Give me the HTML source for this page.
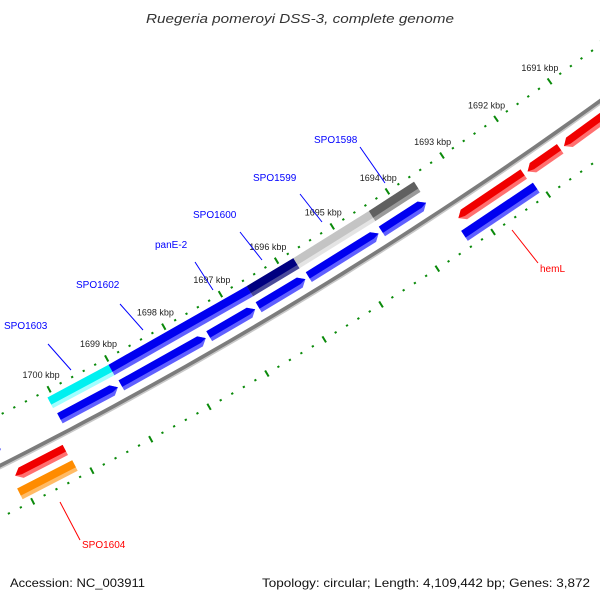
<!DOCTYPE html>
<html><head><meta charset="utf-8"><style>
html,body{margin:0;padding:0;background:#fff;width:600px;height:600px;overflow:hidden}
svg{display:block}
</style></head><body>
<svg id="chart" width="600" height="600" viewBox="0 0 600 600" xmlns="http://www.w3.org/2000/svg">
<rect x="0" y="0" width="600" height="600" fill="#fff"/>
<text x="300" y="23" text-anchor="middle" font-family="Liberation Sans, DejaVu Sans, sans-serif" font-style="italic" font-size="13" fill="#333" textLength="308" lengthAdjust="spacingAndGlyphs">Ruegeria pomeroyi DSS-3, complete genome</text>
<g id="scales"></g>
<g id="backbone"></g>
<g id="features"></g>
<g id="labels"></g>
<text x="10" y="587" font-family="Liberation Sans, DejaVu Sans, sans-serif" font-size="12" fill="#111" textLength="135" lengthAdjust="spacingAndGlyphs">Accession: NC_003911</text>
<text x="590" y="587" text-anchor="end" font-family="Liberation Sans, DejaVu Sans, sans-serif" font-size="12" fill="#111" textLength="328" lengthAdjust="spacingAndGlyphs">Topology: circular; Length: 4,109,442 bp; Genes: 3,872</text>
</svg>
<script>
// ---- data ----
const tickKbp = [1691,1692,1693,1694,1695,1696,1697,1698,1699,1700];
const tickLabels = ["1691 kbp","1692 kbp","1693 kbp","1694 kbp","1695 kbp","1696 kbp","1697 kbp","1698 kbp","1699 kbp","1700 kbp"];
const featK1 = [1700.08,1699.02,1696.59,1695.76,1694.40, 1702.6,1700.08,1699.02,1697.49,1696.62,1695.73,1694.42, 1701.08,1693.34,1692.08,1691.41, 1701.12,1693.39];
const featK2 = [1699.02,1696.59,1695.76,1694.40,1693.58, 1701.05,1699.04,1697.51,1696.64,1695.75,1694.44,1693.58, 1700.19,1692.11,1691.44,1689.00, 1700.19,1692.09];
const featTrack = [1,1,1,1,1, 2,2,2,2,2,2,2, 3,3,3,3, 4,4];
const featDir = [0,0,0,0,0, 1,1,1,1,1,1,1, -1,-1,-1,-1, 0,0];
const featNames = ["SPO1603","SPO1602","panE-2","SPO1600","SPO1599","prev-gene","SPO1603-strand","SPO1602-strand","panE-2-strand","SPO1600-strand","SPO1599-strand","SPO1598-strand","SPO1604","hemL-strand","next-gene-1","next-gene-2","SPO1604-box","hemL"];
// styles
const featColor = ["#00f0f0","#0000f0","#000080","#c4c4c4","#606060", "#0000f0","#0000f0","#0000f0","#0000f0","#0000f0","#0000f0","#0000f0", "#f00000","#f00000","#f00000","#f00000", "#ff8c00","#0000f0"];
const featLight = ["#a0ffff","#6060ff","#4a4a9a","#e4e4e4","#9a9a9a", "#6060ff","#6060ff","#6060ff","#6060ff","#6060ff","#6060ff","#6060ff", "#ff7070","#ff7070","#ff7070","#ff7070", "#ffbb66","#6060ff"];

// ---- geometry ----
const CX=-2004, CY=-3508, R0=4451, DEG_PER_KB=0.85, TH_REF=62.22, K_REF=1700;
function P(k,v){const th=(TH_REF+(k-K_REF)*DEG_PER_KB)*Math.PI/180;const r=R0-v;return [CX+r*Math.cos(th), CY+r*Math.sin(th)];}
const TRACKS={1:[27.5,39.5],2:[9.5,21],3:[-21,-9.5],4:[-39.5,-27.5]};
const NS="http://www.w3.org/2000/svg";
function pts(a){return a.map(p=>p[0].toFixed(1)+","+p[1].toFixed(1)).join(" ");}

// scales
const sg=document.getElementById('scales');
[46,-46].forEach(function(vs){
  for(let i=0;i<=13*5;i++){
    const k=1689+i*0.2;
    const major=(i%5===0);
    const a=P(k,vs+(major?3.5:1)), b=P(k,vs-(major?3.5:1));
    const l=document.createElementNS(NS,'line');
    
    
    l.setAttribute('x1',a[0]);l.setAttribute('y1',a[1]);l.setAttribute('x2',b[0]);l.setAttribute('y2',b[1]);
    l.setAttribute('stroke','#0a8a0a');l.setAttribute('stroke-width',major?2:2.2);
    sg.appendChild(l);
  }
});
tickKbp.forEach(function(k,i){
  const p=P(k,61);
  const t=document.createElementNS(NS,'text');
  
  
  t.setAttribute('x',p[0]-1);t.setAttribute('y',p[1]+2);
  t.setAttribute('text-anchor','middle');t.setAttribute('font-size','9');
  t.setAttribute('font-family','Liberation Sans, DejaVu Sans, sans-serif');t.setAttribute('fill','#222');
  t.textContent=tickLabels[i];
  sg.appendChild(t);
});

// backbone
const bg=document.getElementById('backbone');
function arcPath(v){const a=[];for(let k=1688;k<=1703;k+=0.25)a.push(P(k,v));return "M"+pts(a).replace(/ /g," L");}
const bb1=document.createElementNS(NS,'path');


bb1.setAttribute('d',arcPath(0.5));bb1.setAttribute('fill','none');bb1.setAttribute('stroke','#7c7c7c');bb1.setAttribute('stroke-width','4');
bg.appendChild(bb1);
const bb2=document.createElementNS(NS,'path');


bb2.setAttribute('d',arcPath(-2));bb2.setAttribute('fill','none');bb2.setAttribute('stroke','#c8c8c8');bb2.setAttribute('stroke-width','1.6');
bg.appendChild(bb2);

// features
const fg=document.getElementById('features');
function shape(k1,k2,vb,vt,dir,vmid){
  const h=0.1, vm=vmid;
  if(dir===1) return [P(k1,vt),P(k2+h,vt),P(k2,vm),P(k2+h,vb),P(k1,vb)];
  if(dir===-1) return [P(k1,vm),P(k1-h,vt),P(k2,vt),P(k2,vb),P(k1-h,vb)];
  return [P(k1,vt),P(k2,vt),P(k2,vb),P(k1,vb)];
}
featK1.forEach(function(k1,i){
  const k2=featK2[i], tr=TRACKS[featTrack[i]], gap=(featDir[i]!==0)?0.02:0;
  const a=k1-gap, b=k2+gap, vm=(tr[0]+tr[1])/2;
  const g=document.createElementNS(NS,'g');
  
  
  const p1=document.createElementNS(NS,'polygon');
  
  
  p1.setAttribute('points',pts(shape(a,b,tr[0],tr[1],featDir[i],vm)));
  p1.setAttribute('fill',featLight[i]);
  g.appendChild(p1);
  const p2=document.createElementNS(NS,'polygon');
  
  
  p2.setAttribute('points',pts(shape(a,b,tr[0]+4,tr[1],featDir[i],vm)));
  p2.setAttribute('fill',featColor[i]);
  g.appendChild(p2);
  fg.appendChild(g);
});

// gene labels (leader lines)
const labText=["SPO1603","SPO1602","panE-2","SPO1600","SPO1599","SPO1598","hemL","SPO1604"];
const labCol=["#0000ff","#0000ff","#0000ff","#0000ff","#0000ff","#0000ff","#ff0000","#ff0000"];
const labXY=[[4,329],[76,288],[155,248],[193,218],[253,181],[314,143],[540,272],[82,548]];
const leader=[[48,344,71,370],[120,304,143,330],[195,262,213,290],[240,232,262,260],[300,194,322,222],[360,147,385,183],[512,230,538,263],[60,502,80,540]];
const lg=document.getElementById('labels');
labText.forEach(function(s,i){
  const L=leader[i];
  const l=document.createElementNS(NS,'line');
  
  
  l.setAttribute('x1',L[0]);l.setAttribute('y1',L[1]);l.setAttribute('x2',L[2]);l.setAttribute('y2',L[3]);
  l.setAttribute('stroke',labCol[i]);l.setAttribute('stroke-width','1');
  lg.appendChild(l);
  const t=document.createElementNS(NS,'text');
  
  
  t.setAttribute('x',labXY[i][0]);t.setAttribute('y',labXY[i][1]);
  t.setAttribute('font-size','10');t.setAttribute('font-family','Liberation Sans, DejaVu Sans, sans-serif');
  t.setAttribute('fill',labCol[i]);
  t.textContent=s;
  lg.appendChild(t);
});
</script>
</body></html>
